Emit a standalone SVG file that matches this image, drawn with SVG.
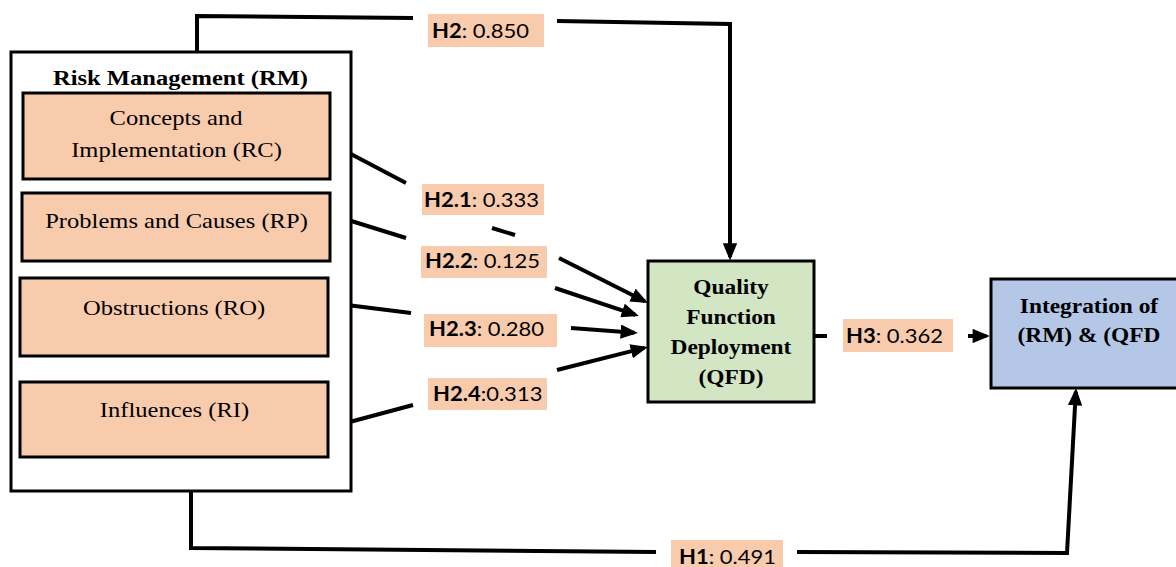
<svg xmlns="http://www.w3.org/2000/svg" width="1176" height="567" viewBox="0 0 1176 567">
<defs>
<style>
.box{stroke:#000;stroke-width:3}
.rm{fill:#fff}
.sub{fill:#f8cbad}
.qfd{fill:#d3e6c4}
.int{fill:#b4c7e7}
.ser{font-family:"Liberation Serif","Times New Roman",serif;font-size:21px;fill:#000;text-anchor:middle}
.b{font-weight:bold;font-size:20px}
.lbl{fill:#f8cbad}
.lt{font-family:Lato,"Open Sans",sans-serif;font-size:20px;fill:#000}
.ln{fill:none;stroke:#000;stroke-width:4}
</style>
<marker id="ah" viewBox="0 0 12 10" refX="9.5" refY="5" markerWidth="4.4" markerHeight="3.6" orient="auto" markerUnits="strokeWidth">
<path d="M0,0 L12,5 L0,10 z" fill="#000"/>
</marker>
</defs>
<rect width="1176" height="567" fill="#fff"/>

<g id="connectors">
<polyline class="ln" points="197,52 197,16 413,18"/>
<polyline class="ln" points="557,21 730,24 730,257" marker-end="url(#ah)"/>
<line class="ln" x1="330" y1="143" x2="406" y2="183"/>
<line class="ln" x1="492" y1="228" x2="515" y2="235"/>
<line class="ln" x1="332" y1="215" x2="406" y2="238"/>
<line class="ln" x1="559" y1="258" x2="644.7" y2="301.3" marker-end="url(#ah)"/>
<line class="ln" x1="555" y1="288" x2="635.5" y2="314.8" marker-end="url(#ah)"/>
<line class="ln" x1="331" y1="303" x2="411" y2="313"/>
<line class="ln" x1="571" y1="328" x2="634.3" y2="332.7" marker-end="url(#ah)"/>
<line class="ln" x1="557" y1="370" x2="644.4" y2="347.9" marker-end="url(#ah)"/>
<line class="ln" x1="331" y1="427" x2="413" y2="405"/>
<line class="ln" x1="813" y1="336" x2="827" y2="336"/>
<line class="ln" x1="968" y1="336" x2="986.3" y2="336" marker-end="url(#ah)"/>
<polyline class="ln" points="191,491 191,548 656,552"/>
<polyline class="ln" points="797,552 1067,553 1075.8,391.7" marker-end="url(#ah)"/>
</g>

<g id="labels">
<g id="lbl-h2"><rect class="lbl" x="428" y="14" width="116" height="33"/><text class="lt" transform="translate(432 38) scale(1.1 1)"><tspan font-weight="bold">H2</tspan>: 0.850</text></g>
<g id="lbl-h21"><rect class="lbl" x="422" y="184" width="122" height="31"/><text class="lt" transform="translate(424 207) scale(1.1 1)"><tspan font-weight="bold">H2.1</tspan>: 0.333</text></g>
<g id="lbl-h22"><rect class="lbl" x="421" y="246" width="126" height="32"/><text class="lt" transform="translate(425 268) scale(1.1 1)"><tspan font-weight="bold">H2.2</tspan>: 0.125</text></g>
<g id="lbl-h23"><rect class="lbl" x="424" y="314" width="133" height="33"/><text class="lt" transform="translate(429 336) scale(1.1 1)"><tspan font-weight="bold">H2.3</tspan>: 0.280</text></g>
<g id="lbl-h24"><rect class="lbl" x="428" y="378" width="119" height="32"/><text class="lt" transform="translate(433 401) scale(1.1 1)"><tspan font-weight="bold">H2.4</tspan>:0.313</text></g>
<g id="lbl-h3"><rect class="lbl" x="843" y="319" width="110" height="33"/><text class="lt" transform="translate(846 343) scale(1.1 1)"><tspan font-weight="bold">H3</tspan>: 0.362</text></g>
<g id="lbl-h1"><rect class="lbl" x="671" y="540" width="112" height="30"/><text class="lt" transform="translate(679 564) scale(1.1 1)"><tspan font-weight="bold">H1</tspan>: 0.491</text></g>
</g>

<g id="node-rm">
<rect class="box rm" x="11" y="52" width="340" height="439"/>
<text class="ser b" style="font-size:21px" transform="translate(180.5 85) scale(1.17 1)">Risk Management (RM)</text>
</g>
<g id="node-rc">
<rect class="box sub" x="23" y="93" width="307" height="86"/>
<text class="ser" transform="translate(176 125) scale(1.17 1)">Concepts and</text>
<text class="ser" transform="translate(176.5 157) scale(1.17 1)">Implementation (RC)</text>
</g>
<g id="node-rp">
<rect class="box sub" x="22" y="193" width="308" height="68"/>
<text class="ser" transform="translate(176.5 228) scale(1.17 1)">Problems and Causes (RP)</text>
</g>
<g id="node-ro">
<rect class="box sub" x="20" y="278" width="308" height="78"/>
<text class="ser" transform="translate(174 315) scale(1.17 1)">Obstructions (RO)</text>
</g>
<g id="node-ri">
<rect class="box sub" x="20" y="382" width="308" height="75"/>
<text class="ser" transform="translate(174.5 417) scale(1.17 1)">Influences (RI)</text>
</g>
<g id="node-qfd">
<rect class="box qfd" x="648" y="261" width="166" height="141"/>
<text class="ser b" transform="translate(731 294) scale(1.17 1)">Quality</text>
<text class="ser b" transform="translate(731 324) scale(1.17 1)">Function</text>
<text class="ser b" transform="translate(731 354) scale(1.17 1)">Deployment</text>
<text class="ser b" transform="translate(731 384) scale(1.17 1)">(QFD)</text>
</g>
<g id="node-int">
<rect class="box int" x="991" y="279" width="190" height="109"/>
<text class="ser b" transform="translate(1089 313) scale(1.17 1)">Integration of</text>
<text class="ser b" transform="translate(1089 342) scale(1.17 1)">(RM) &amp; (QFD</text>
</g>
</svg>
